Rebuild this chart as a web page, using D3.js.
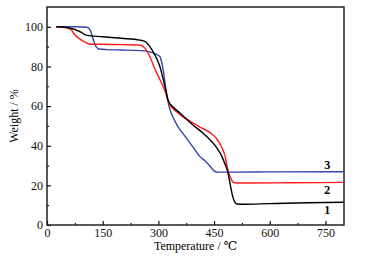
<!DOCTYPE html>
<html>
<head>
<meta charset="utf-8">
<script src="https://cdn.jsdelivr.net/npm/d3@7"></script>
<style>
  body { margin: 0; background: #fff; }
  svg { display: block; }
</style>
</head>
<body>
<div id="chart"></div>
<script>
// TGA curves (temperature in C, weight in %)
var temp1 = [25, 60, 90, 105, 150, 200, 250, 265, 277, 290, 304, 315, 322, 326, 340, 358, 393, 425, 457, 470, 480, 487, 494, 500, 506, 511, 530, 600, 700, 800];
var weight1 = [100, 99.4, 97.5, 95.8, 95, 94.2, 93.3, 92.5, 90, 86, 80, 72, 66.5, 63, 59.5, 56.5, 50.5, 45.5, 39, 35, 30.5, 26.7, 20, 14.6, 11.5, 10.6, 10.5, 10.8, 11.2, 11.5];

var temp2 = [25, 50, 65, 75, 89, 105, 116, 150, 200, 250, 265, 277, 290, 300, 317, 330, 350, 366, 380, 412, 440, 457, 470, 480, 487, 494, 500, 506, 515, 550, 650, 800];
var weight2 = [100, 99.6, 98.5, 96, 93.8, 92, 91.2, 91.2, 91, 90.8, 89, 85, 79, 75, 68, 61, 57, 54.5, 53, 49.4, 46.5, 43.5, 39.5, 34.5, 28, 24, 21.8, 21.3, 21.2, 21.2, 21.3, 21.5];

var temp3 = [25, 80, 108, 116, 124, 132, 140, 160, 200, 250, 270, 290, 304, 314, 322, 330, 339, 355, 371, 393, 412, 425, 440, 452, 460, 500, 600, 800];
var weight3 = [100, 100, 99.8, 98.5, 94, 90, 88.8, 88.5, 88.3, 88, 87.6, 86.5, 85, 77, 66, 59, 54.5, 49, 45, 39.4, 34.5, 32.5, 29.5, 27, 26.7, 26.7, 26.8, 26.9];

var xTicks = [0, 150, 300, 450, 600, 750];
var yTicks = [0, 20, 40, 60, 80, 100];
var curveColors = ["#000000", "#ff1a1a", "#3344aa"];
var curveLabels = ["1", "2", "3"];

var W = 371, H = 258;
var margin = { top: 7, right: 27, bottom: 33, left: 47 },
  width = W - margin.left - margin.right,
  height = H - margin.top - margin.bottom;

var svg = d3.select("#chart").append("svg")
  .attr("width", W)
  .attr("height", H)
  .append("g")
  .attr("transform", "translate(" + margin.left + "," + margin.top + ")");

var x = d3.scaleLinear().domain([0, 800]).range([0, width]);
var y = d3.scaleLinear().domain([0, 110]).range([height, 0]);

var font = "Times New Roman, Liberation Serif, DejaVu Serif, serif";

// x axis, ticks pointing inward
svg.append("g")
  .attr("transform", "translate(0," + height + ")")
  .call(d3.axisBottom(x).tickValues(xTicks).tickSize(-4).tickPadding(3));
svg.append("g")
  .attr("transform", "translate(0," + height + ")")
  .call(d3.axisBottom(x).tickValues([75, 225, 375, 525, 675]).tickSize(-2).tickFormat(""));

svg.append("g")
  .call(d3.axisLeft(y).tickValues(yTicks).tickSize(-4).tickPadding(4));
svg.append("g")
  .call(d3.axisLeft(y).tickValues([10, 30, 50, 70, 90]).tickSize(-2).tickFormat(""));

svg.selectAll("g").attr("font-family", font).attr("font-size", 12);
svg.selectAll(".tick text").attr("fill", "#111");
svg.selectAll(".tick line").attr("stroke", "#111").attr("stroke-width", 1.2);
svg.selectAll(".domain").remove();

// frame
svg.append("rect")
  .attr("x", 0).attr("y", 0)
  .attr("width", width).attr("height", height)
  .attr("fill", "none")
  .attr("stroke", "#222")
  .attr("stroke-width", 1.5);

// curves
var series = [[temp1, weight1], [temp2, weight2], [temp3, weight3]];
var line = d3.line()
  .x(function (d) { return x(d[0]); })
  .y(function (d) { return y(d[1]); })
  .curve(d3.curveMonotoneX);

// draw blue, red, then black on top
[2, 1, 0].forEach(function (i) {
  var pts = d3.zip(series[i][0], series[i][1]);
  svg.append("path")
    .datum(pts)
    .attr("d", line)
    .attr("fill", "none")
    .attr("stroke", curveColors[i])
    .attr("stroke-width", 1.4);
});

// curve numbers
var labelY = [7.6, 17.7, 30.3];
curveLabels.forEach(function (t, i) {
  svg.append("text")
    .attr("x", x(755))
    .attr("y", y(labelY[i]) + 4)
    .attr("text-anchor", "middle")
    .attr("font-family", font)
    .attr("font-size", 12)
    .attr("font-weight", "bold")
    .text(t);
});

// axis titles
svg.append("text")
  .attr("x", width / 2)
  .attr("y", height + 25)
  .attr("text-anchor", "middle")
  .attr("font-family", font)
  .attr("font-size", 12)
  .text("Temperature / \u2103");

svg.append("text")
  .attr("transform", "translate(" + (-29) + "," + (height / 2) + ")rotate(-90)")
  .attr("text-anchor", "middle")
  .attr("font-family", font)
  .attr("font-size", 12)
  .text("Weight / %");
</script>
</body>
</html>
